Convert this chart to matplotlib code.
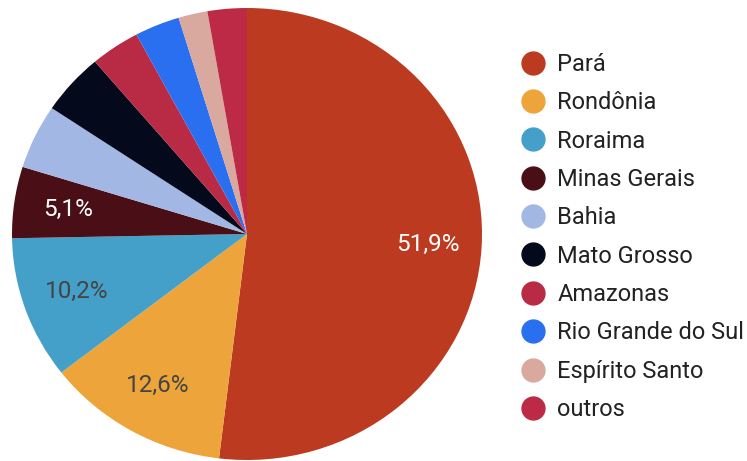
import matplotlib
matplotlib.use("Agg")
import matplotlib.pyplot as plt
from matplotlib.lines import Line2D

plt.rcParams['font.family'] = ['Roboto', 'DejaVu Sans']

states = ["Pará", "Rondônia", "Roraima", "Minas Gerais", "Bahia", "Mato Grosso",
          "Amazonas", "Rio Grande do Sul", "Espírito Santo", "outros"]
shares = [51.9, 12.6, 10.2, 5.1, 4.6, 4.4, 3.4, 3.1, 2.0, 2.7]
colors = ["#BC3A1F", "#EDA43B", "#44A0C8", "#4A0F16", "#A2B7E3", "#040A1C",
          "#B92A44", "#2A6FF0", "#D9A9A0", "#BC2A45"]
label_colors = ["white", "#444444", "#444444", "white", "white", "white",
                "white", "white", "white", "white"]

W, H = 747, 461
fig = plt.figure(figsize=(W / 100, H / 100), dpi=100)
ax = fig.add_axes([12 / W, 1 / H, 470 / W, 452 / H])

def fmt(p):
    return (f"{p:.1f}%".replace(".", ",")) if p >= 5 else ""

wedges, texts, autotexts = ax.pie(shares, colors=colors, startangle=90, counterclock=False,
                                  autopct=fmt, pctdistance=0.77,
                                  wedgeprops=dict(linewidth=0),
                                  textprops=dict(fontsize=17.5))
for t, c in zip(autotexts, label_colors):
    t.set_color(c)
ax.set_aspect('auto')
ax.set_xlim(-1, 1)
ax.set_ylim(-1, 1)
ax.axis('off')

handles = [Line2D([], [], marker='o', linestyle='', markersize=16.5, color=c) for c in colors]
fig.legend(handles, states, loc='upper left', bbox_to_anchor=(519 / W, 1 - 53 / H),
           frameon=False, fontsize=17, labelspacing=0.65, handletextpad=0.42,
           handlelength=1.2, borderpad=0, borderaxespad=0, labelcolor='#222222')

fig.savefig("out.png", dpi=100)
